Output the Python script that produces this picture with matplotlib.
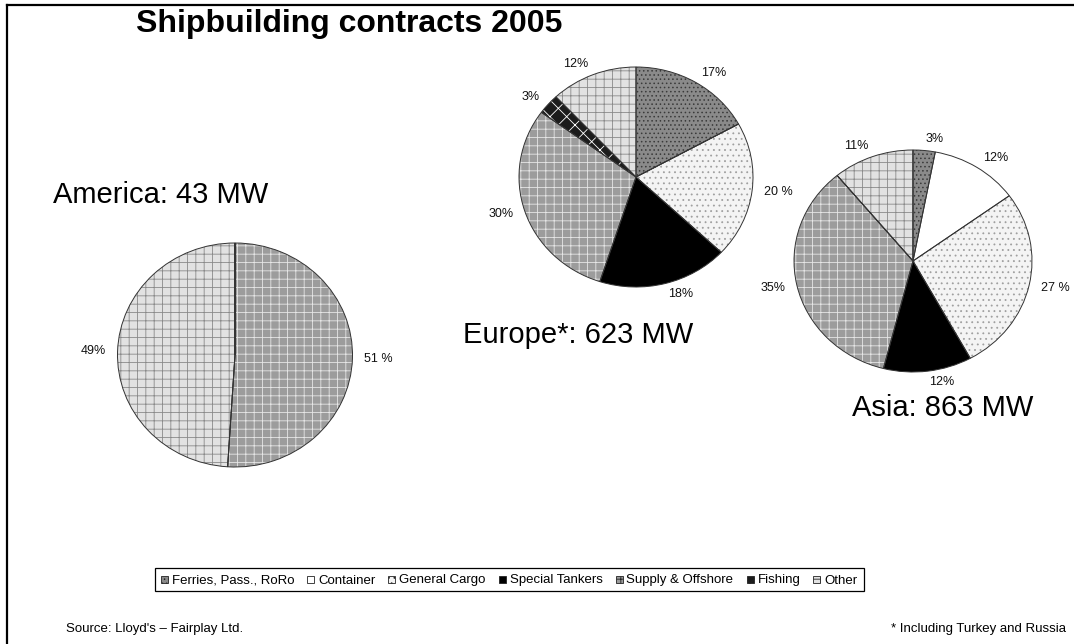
import matplotlib
matplotlib.use("Agg")
import matplotlib.pyplot as plt
from matplotlib.lines import Line2D
from matplotlib.patches import Rectangle

# ---------------- data ----------------
categories = ["Ferries, Pass., RoRo", "Container", "General Cargo",
              "Special Tankers", "Supply & Offshore", "Fishing", "Other"]
america_values = [0, 0, 0, 0, 51, 0, 49]
europe_values = [17, 0, 20, 18, 30, 3, 12]
asia_values = [3, 12, 27, 12, 35, 0, 11]
america_labels = ["", "", "", "", "51 %", "", "49%"]
europe_labels = ["17%", "", "20 %", "18%", "30%", "3%", "12%"]
asia_labels = ["3%", "12%", "27 %", "12%", "35%", "", "11%"]
region_titles = ["America: 43 MW", "Europe*: 623 MW", "Asia: 863 MW"]
title_text = "Shipbuilding contracts 2005"
source_text = "Source: Lloyd's \u2013 Fairplay Ltd."
footnote_text = "* Including Turkey and Russia"

# ---------------- style ----------------
faces = ['#8a8a8a', '#ffffff', '#f4f4f4', '#000000', '#9c9c9c', '#1c1c1c', '#e2e2e2']
hatches = ['....', '', '...', '', '++', 'xx', '++']
hatch_cols = ['#3a3a3a', '#ffffff', '#a0a0a0', '#000000', '#e6e6e6', '#ffffff', '#8a8a8a']

plt.rcParams['font.family'] = ['Liberation Sans', 'DejaVu Sans']
plt.rcParams['hatch.linewidth'] = 0.6

W, H = 1074, 644
fig = plt.figure(figsize=(W / 100, H / 100), dpi=100)
fig.patch.set_facecolor('white')


def px_axes(cx, cy, rx, ry):
    w, h = 2.5 * rx, 2.5 * ry
    left = cx - w / 2
    bottom = H - cy - h / 2
    return fig.add_axes([left / W, bottom / H, w / W, h / H])


def draw_pie(ax, values, labels):
    wedges, texts = ax.pie(values, labels=labels, startangle=90, counterclock=False,
                           labeldistance=1.1, colors=faces,
                           wedgeprops=dict(linewidth=0),
                           textprops=dict(fontsize=9, color='#111111'))
    for wdg, ht, hc in zip(wedges, hatches, hatch_cols):
        wdg.set_hatch(ht)
        wdg.set_edgecolor(hc)
    ax.pie(values, startangle=90, counterclock=False,
           wedgeprops=dict(linewidth=0.7, edgecolor='#333333', fill=False))
    ax.set_aspect('auto')
    ax.set_xlim(-1.25, 1.25)
    ax.set_ylim(-1.25, 1.25)
    ax.axis('off')
    return wedges


ax_am = px_axes(235, 355, 117.5, 112)
draw_pie(ax_am, america_values, america_labels)
ax_eu = px_axes(636, 177, 117, 110)
draw_pie(ax_eu, europe_values, europe_labels)
ax_as = px_axes(913, 261, 119, 111)
draw_pie(ax_as, asia_values, asia_labels)

# region titles
fig.text(53 / W, 1 - 195 / H, region_titles[0], fontsize=21, va='center', ha='left')
fig.text(463 / W, 1 - 335 / H, region_titles[1], fontsize=21, va='center', ha='left')
fig.text(852 / W, 1 - 408 / H, region_titles[2], fontsize=21, va='center', ha='left')

# main title
fig.text(136 / W, 1 - 24 / H, title_text, fontsize=23, fontweight='bold', va='center', ha='left')

# source & footnote
fig.text(66 / W, 1 - 629 / H, source_text, fontsize=9.5, va='center', ha='left')
fig.text(1066 / W, 1 - 629 / H, footnote_text, fontsize=9.5, va='center', ha='right')

# ---------------- legend (single row, common baseline) ----------------
renderer = fig.canvas.get_renderer()
leg_fs = 9.5
box_sz = 7.0        # marker square size in px
mk_gap = 4.0        # marker -> text
item_gap = 13.0     # text -> next marker
pad = 6.0
leg_top, leg_bot = 568.0, 591.0
baseline = 583.5
mid = (leg_top + leg_bot) / 2

widths = []
for lab in categories:
    tmp = fig.text(0, 0, lab, fontsize=leg_fs)
    widths.append(tmp.get_window_extent(renderer).width)
    tmp.remove()
total = pad * 2 + sum(box_sz + mk_gap + w for w in widths) + item_gap * (len(categories) - 1)
leg_center = 509.0
x = leg_center - total / 2
fig.add_artist(Rectangle((x / W, 1 - leg_bot / H), total / W, (leg_bot - leg_top) / H,
                         transform=fig.transFigure, facecolor='white', edgecolor='black',
                         linewidth=0.9))
x += pad
for f, h, lab, w in zip(faces, hatches, categories, widths):
    fig.add_artist(Rectangle((x / W, 1 - (baseline - 0.5) / H), box_sz / W, box_sz / H,
                             transform=fig.transFigure, facecolor=f, hatch=h,
                             edgecolor='#222222', linewidth=0.6))
    x += box_sz + mk_gap
    fig.text(x / W, 1 - baseline / H, lab, fontsize=leg_fs, va='baseline', ha='left')
    x += w + item_gap

# page border (top and left)
fig.add_artist(Line2D([7 / W, 1.0], [1 - 5 / H, 1 - 5 / H], color='black', linewidth=1.6))
fig.add_artist(Line2D([7 / W, 7 / W], [0, 1 - 5 / H], color='black', linewidth=1.6))

fig.savefig('out.png', dpi=100, facecolor='white')
